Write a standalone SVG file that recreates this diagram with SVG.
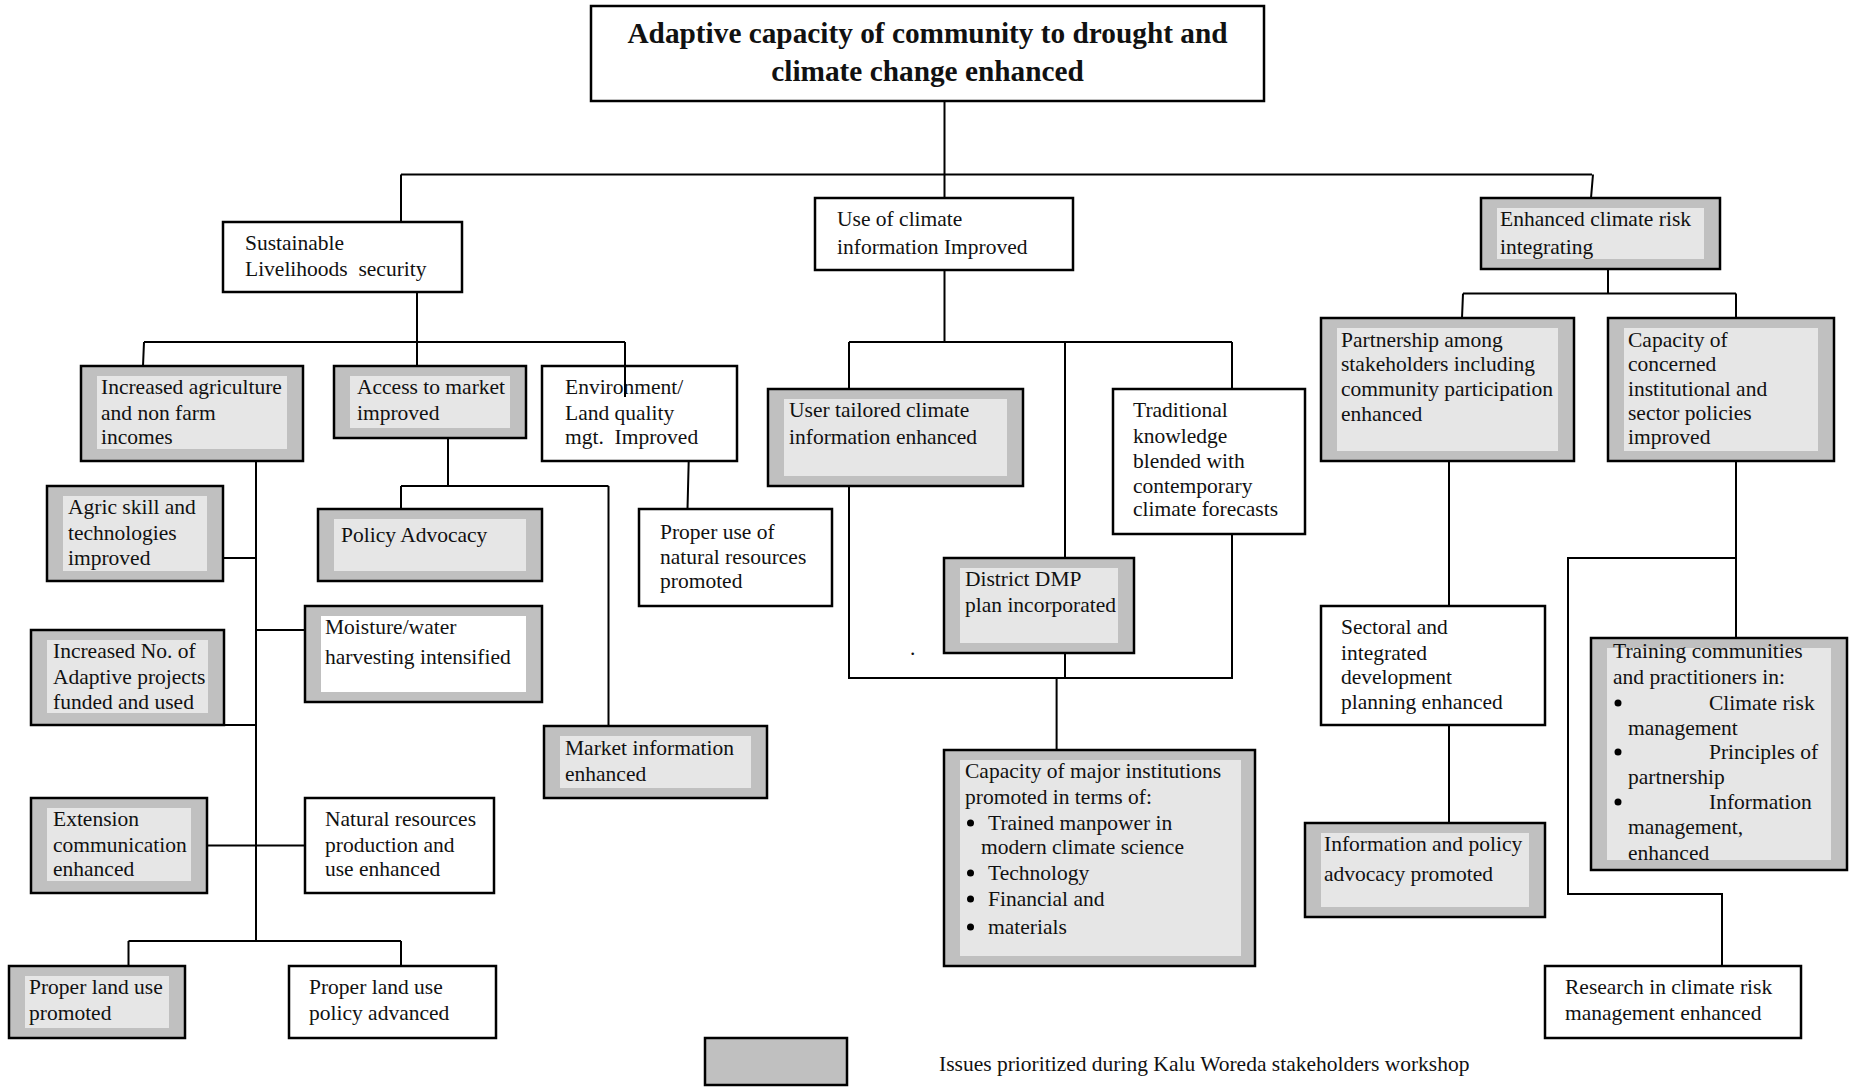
<svg xmlns="http://www.w3.org/2000/svg" width="1849" height="1087" viewBox="0 0 1849 1087">
<style>
.bw{fill:#fff;stroke:#000;stroke-width:2.5}
.sh{fill:#c0c0c0;stroke:#000;stroke-width:2.5}
.in{fill:#e6e6e6}
.iw{fill:#fff}
.bu{fill:#000}
text{font-family:"Liberation Serif","Times New Roman",serif;font-size:21.5px;fill:#111}
.ti{font-weight:bold;font-size:29.3px;text-anchor:middle}
.con{stroke:#000;stroke-width:2;fill:none}
</style>
<rect width="1849" height="1087" fill="#fff"/>
<g id="nodes">
<g id="n-title"><rect class="bw" x="591" y="6" width="673" height="95"/><text class="ti" x="927.5" y="43">Adaptive capacity of community to drought and</text><text class="ti" x="927.5" y="81">climate change enhanced</text></g>
<g id="n-sls"><rect class="bw" x="223" y="222" width="239" height="70"/><text x="245" y="250">Sustainable</text><text x="245" y="276" xml:space="preserve">Livelihoods  security</text></g>
<g id="n-uci"><rect class="bw" x="815" y="198" width="258" height="72"/><text x="837" y="226">Use of climate</text><text x="837" y="253.5">information Improved</text></g>
<g id="n-ecr"><rect class="sh" x="1481" y="198" width="239" height="71"/><rect class="in" x="1497" y="208" width="207" height="51"/><text x="1500" y="226">Enhanced climate risk</text><text x="1500" y="254">integrating</text></g>
<g id="n-iag"><rect class="sh" x="81" y="366" width="222" height="95"/><rect class="in" x="97" y="376" width="190" height="73"/><text x="101" y="394">Increased agriculture</text><text x="101" y="420">and non farm</text><text x="101" y="444">incomes</text></g>
<g id="n-atm"><rect class="sh" x="334" y="366" width="192" height="72"/><rect class="in" x="350" y="376" width="160" height="52"/><text x="357" y="394">Access to market</text><text x="357" y="420">improved</text></g>
<g id="n-env"><rect class="bw" x="542" y="366" width="195" height="95"/><text x="565" y="394">Environment/</text><text x="565" y="420">Land quality</text><text x="565" y="444" xml:space="preserve">mgt.  Improved</text></g>
<g id="n-ask"><rect class="sh" x="47" y="486" width="176" height="95"/><rect class="in" x="63" y="496" width="144" height="75"/><text x="68" y="514">Agric skill and</text><text x="68" y="540">technologies</text><text x="68" y="565">improved</text></g>
<g id="n-pad"><rect class="sh" x="318" y="509" width="224" height="72"/><rect class="in" x="334" y="519" width="192" height="52"/><text x="341" y="542">Policy Advocacy</text></g>
<g id="n-pur"><rect class="bw" x="639" y="509" width="193" height="97"/><text x="660" y="539">Proper use of</text><text x="660" y="564">natural resources</text><text x="660" y="588">promoted</text></g>
<g id="n-mwh"><rect class="sh" x="305" y="606" width="237" height="96"/><rect class="iw" x="321" y="616" width="205" height="76"/><text x="325" y="634">Moisture/water</text><text x="325" y="664">harvesting intensified</text></g>
<g id="n-ian"><rect class="sh" x="31" y="630" width="193" height="95"/><rect class="in" x="47" y="640" width="161" height="73"/><text x="53" y="658">Increased No. of</text><text x="53" y="684">Adaptive projects</text><text x="53" y="709">funded and used</text></g>
<g id="n-mie"><rect class="sh" x="544" y="726" width="223" height="72"/><rect class="in" x="560" y="736" width="191" height="52"/><text x="565" y="755">Market information</text><text x="565" y="781">enhanced</text></g>
<g id="n-ece"><rect class="sh" x="31" y="798" width="176" height="95"/><rect class="in" x="47" y="808" width="144" height="73"/><text x="53" y="826">Extension</text><text x="53" y="852">communication</text><text x="53" y="876">enhanced</text></g>
<g id="n-nrp"><rect class="bw" x="305" y="798" width="189" height="95"/><text x="325" y="826">Natural resources</text><text x="325" y="852">production and</text><text x="325" y="876">use enhanced</text></g>
<g id="n-plp"><rect class="sh" x="9" y="966" width="176" height="72"/><rect class="in" x="25" y="976" width="144" height="52"/><text x="29" y="994">Proper land use</text><text x="29" y="1020">promoted</text></g>
<g id="n-plpa"><rect class="bw" x="289" y="966" width="207" height="72"/><text x="309" y="994">Proper land use</text><text x="309" y="1020">policy advanced</text></g>
<g id="n-utc"><rect class="sh" x="768" y="389" width="255" height="97"/><rect class="in" x="784" y="399" width="223" height="77"/><text x="789" y="417">User tailored climate</text><text x="789" y="444">information enhanced</text></g>
<g id="n-tkb"><rect class="bw" x="1113" y="389" width="192" height="145"/><text x="1133" y="417">Traditional</text><text x="1133" y="443">knowledge</text><text x="1133" y="468">blended with</text><text x="1133" y="493">contemporary</text><text x="1133" y="516">climate forecasts</text></g>
<g id="n-dmp"><rect class="sh" x="944" y="558" width="190" height="95"/><rect class="in" x="960" y="568" width="158" height="75"/><text x="965" y="586">District DMP</text><text x="965" y="612">plan incorporated</text></g>
<g id="n-cmi"><rect class="sh" x="944" y="750" width="311" height="216"/><rect class="in" x="960" y="760" width="281" height="196"/><text x="965" y="778">Capacity of major institutions</text><text x="965" y="804">promoted in terms of:</text><circle class="bu" cx="970.5" cy="823" r="3.5"/><text x="988" y="830">Trained manpower in</text><text x="981" y="854">modern climate science</text><circle class="bu" cx="970.5" cy="873" r="3.5"/><text x="988" y="880">Technology</text><circle class="bu" cx="970.5" cy="899" r="3.5"/><text x="988" y="906">Financial and</text><circle class="bu" cx="970.5" cy="927" r="3.5"/><text x="988" y="934">materials</text></g>
<g id="n-pas"><rect class="sh" x="1321" y="318" width="253" height="143"/><rect class="in" x="1337" y="328" width="221" height="123"/><text x="1341" y="347">Partnership among</text><text x="1341" y="371">stakeholders including</text><text x="1341" y="396">community participation</text><text x="1341" y="421">enhanced</text></g>
<g id="n-cci"><rect class="sh" x="1608" y="318" width="226" height="143"/><rect class="in" x="1624" y="328" width="194" height="123"/><text x="1628" y="347">Capacity of</text><text x="1628" y="371">concerned</text><text x="1628" y="396">institutional and</text><text x="1628" y="420">sector policies</text><text x="1628" y="444">improved</text></g>
<g id="n-sid"><rect class="bw" x="1321" y="606" width="224" height="119"/><text x="1341" y="634">Sectoral and</text><text x="1341" y="660">integrated</text><text x="1341" y="684">development</text><text x="1341" y="709">planning enhanced</text></g>
<g id="n-ipa"><rect class="sh" x="1305" y="823" width="240" height="94"/><rect class="in" x="1321" y="833" width="208" height="74"/><text x="1324" y="851">Information and policy</text><text x="1324" y="881">advocacy promoted</text></g>
<g id="n-tcp"><rect class="sh" x="1591" y="638" width="256" height="232"/><rect class="in" x="1607" y="648" width="224" height="212"/><text x="1613" y="658">Training communities</text><text x="1613" y="684">and practitioners in:</text><circle class="bu" cx="1618" cy="703" r="3.5"/><text x="1709" y="710">Climate risk</text><text x="1628" y="735">management</text><circle class="bu" cx="1618" cy="752" r="3.5"/><text x="1709" y="759">Principles of</text><text x="1628" y="784">partnership</text><circle class="bu" cx="1618" cy="802" r="3.5"/><text x="1709" y="809">Information</text><text x="1628" y="834">management,</text><text x="1628" y="860">enhanced</text></g>
<g id="n-rcr"><rect class="bw" x="1545" y="966" width="256" height="72"/><text x="1565" y="994">Research in climate risk</text><text x="1565" y="1020">management enhanced</text></g>
<g id="legend"><rect class="sh" x="705" y="1038" width="142" height="47"/><text x="939" y="1071">Issues prioritized during Kalu Woreda stakeholders workshop</text></g>
<text x="910" y="655">.</text>
</g>
<g id="connectors" class="con">
<path d="M944.5,101V174.5M401,174.5H1592M401,174.5V222M944.5,174.5V198M1593,174.5L1591,198"/>
<path d="M417,292V342M144,342H625M144,342L143,366M417,342V366M625,342V397"/>
<path d="M256,461V941M223,558H256M256,630H305M224,725H256M207,845.5H305M128.5,941H401M128.5,941V966M401,941V966"/>
<path d="M448,437.5V486M401,486H608.5M401,486V509M608.5,486V726M688.7,461L687.5,509"/>
<path d="M944.5,270V342M849,342H1232M849,342V389M1232,342V389M1065,342V558M849,486V678H1232V534M1065,653V678M1056.6,678V750"/>
<path d="M1608,269V293.6M1463,293.6H1736M1463,293.6L1462,318M1736,293.6V318M1449,461V606M1449,725V823M1736,461V638M1736,558H1568V894H1722V966"/>
</g>
</svg>
